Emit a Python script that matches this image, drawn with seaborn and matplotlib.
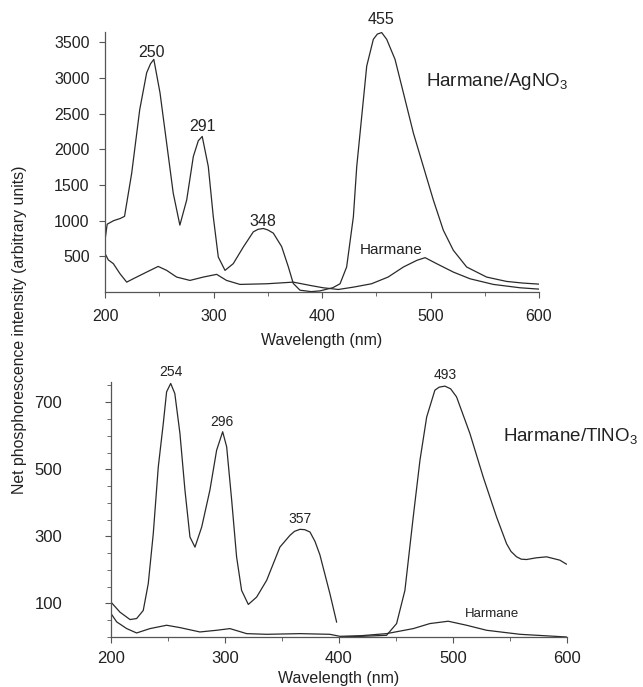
import matplotlib
matplotlib.use("Agg")
import matplotlib.pyplot as plt
import seaborn as sns
import pandas as pd
from matplotlib.ticker import MultipleLocator, FixedLocator

sns.set_theme(style="ticks")
plt.rcParams['font.family'] = ['Liberation Sans', 'DejaVu Sans']
plt.rcParams['mathtext.fontset'] = 'custom'
plt.rcParams['mathtext.rm'] = 'Liberation Sans'
plt.rcParams['mathtext.default'] = 'regular'

# ---- Top panel: Harmane/AgNO3 ----
ag_wl = [200, 202, 208, 214, 218, 224.6, 232, 238.4, 242, 245, 250.7, 256.8, 262.9, 269, 275.3,
         281.4, 286, 289.6, 295.2, 299.8, 304.4, 310.6, 318.2, 327.5, 336.7, 341, 345.9, 350,
         355.1, 362.8, 368.9, 373.5, 379.7, 390, 398, 410, 416.6, 422.7, 428.9, 432, 436.6,
         441.2, 447.3, 451, 455, 459.6, 467.3, 475, 484.2, 493.4, 502.6, 511.8, 521, 533.3,
         551.7, 570, 585, 600]
ag_int = [725, 950, 1000, 1030, 1060, 1665, 2556, 3073, 3200, 3260, 2791, 2087, 1383, 937, 1290,
          1899, 2120, 2180, 1758, 1054, 490, 303, 397, 631, 843, 878, 890, 870,
          825, 636, 355, 120, 25, 5, 15, 60, 115, 350, 1054, 1758, 2462,
          3166, 3542, 3615, 3636, 3542, 3260, 2791, 2228, 1758, 1289, 866, 585, 350,
          209, 148, 125, 110]

h1_wl = [200, 203, 207.7, 213.8, 220, 226, 238.4, 249, 256.8, 266, 278.3, 290.6, 302.9, 312,
         324.4, 349, 373.5, 389, 401, 415, 429, 445.6, 460.9, 475, 487.5, 495, 505.6, 521,
         536.4, 557.9, 582.5, 600]
h1_int = [540, 450, 397, 256, 138, 185, 279, 358, 303, 209, 162, 209, 247, 162,
          106, 115, 138, 92, 59, 35, 68, 115, 209, 350, 444, 481, 397, 279,
          185, 106, 59, 40]

# ---- Bottom panel: Harmane/TlNO3 (two scan segments) ----
tl_wl_a = [200, 207.9, 216.7, 222.5, 228.3, 232.7, 237.1, 241.5, 245.9, 248.8, 252.4, 256,
           260.5, 264.9, 269.3, 273.7, 279.6, 286.8, 292.7, 298, 301.5, 305.9, 310.2, 314.6,
           320.5, 327.8, 336.6, 348.2, 357, 361, 365.8, 370, 374.6, 379, 383.3, 392.1, 398]
tl_int_a = [104, 74, 52, 55, 79, 159, 308, 507, 637, 731, 756, 726,
            607, 438, 298, 268, 328, 438, 557, 612, 567, 408, 239, 139,
            97, 119, 169, 268, 303, 315, 321, 320, 313, 285, 245, 129, 44]
tl_wl_b = [400.9, 420, 441.8, 450.6, 457.9, 465.2, 471.1, 477, 484.2, 488, 493, 498, 503.2,
           514.9, 526.6, 538.3, 547.1, 551, 555.9, 560, 564.7, 573, 582.2, 593.9, 599.7]
tl_int_b = [0, 2, 5, 40, 139, 358, 527, 656, 736, 745, 748, 740, 716,
            607, 477, 358, 278, 255, 239, 232, 231, 236, 239, 229, 217]

h2_wl = [200, 205, 213.8, 222.5, 234.2, 248.8, 260.5, 278, 292.7, 304.4, 319, 336.6, 365.8,
         392, 400.9, 420, 441.8, 465.2, 479.8, 495.9, 512, 529.6, 558.8, 599.7]
h2_int = [70, 45, 25, 12, 25, 35, 28, 15, 20, 25, 10, 8, 10,
          8, 2, 4, 10, 25, 40, 47, 35, 20, 8, 0]

line_col = "#2a2a2a"
fig = plt.figure(figsize=(6.43, 6.87), dpi=100)
ax1 = fig.add_axes([0.1633, 0.575, 0.675, 0.378])
ax2 = fig.add_axes([0.1726, 0.0728, 0.709, 0.371])

def draw(ax, wl, inten):
    df = pd.DataFrame({"wl": wl, "I": inten})
    sns.lineplot(data=df, x="wl", y="I", ax=ax, color=line_col, lw=0.9,
                 estimator=None, sort=False)

draw(ax1, ag_wl, ag_int)
draw(ax1, h1_wl, h1_int)
draw(ax2, tl_wl_a, tl_int_a)
draw(ax2, tl_wl_b, tl_int_b)
draw(ax2, h2_wl, h2_int)

tc = "#222222"
for ax in (ax1, ax2):
    sns.despine(ax=ax)
    ax.set_xlim(200, 600)
    ax.xaxis.set_major_locator(MultipleLocator(100))
    ax.xaxis.set_minor_locator(MultipleLocator(50))
    ax.tick_params(axis='both', which='major', length=4, width=0.8, color="#555555",
                   labelsize=11.5, labelcolor=tc, direction='out')
    ax.tick_params(axis='both', which='minor', length=3, width=0.6, color="#555555",
                   direction='out')
    for s in ("left", "bottom"):
        ax.spines[s].set_color("#555555")
        ax.spines[s].set_linewidth(0.9)
    ax.set_xlabel("Wavelength (nm)", fontsize=11.5, color=tc)
    ax.set_ylabel("")

ax1.set_ylim(0, 3640)
ax1.yaxis.set_major_locator(FixedLocator([500, 1000, 1500, 2000, 2500, 3000, 3500]))
ax1.tick_params(axis='x', which='major', pad=8)
ax1.tick_params(axis='y', which='major', pad=7)
ax1.xaxis.set_label_coords(0.5, -0.158)

ax2.set_ylim(0, 760)
ax2.yaxis.set_major_locator(FixedLocator([100, 300, 500, 700]))
ax2.yaxis.set_minor_locator(MultipleLocator(50))
ax2.tick_params(axis='x', which='major', pad=6, labelsize=12)
ax2.tick_params(axis='y', which='major', pad=31, labelsize=12)
ax2.xaxis.set_label_coords(0.5, -0.133)

# top annotations
ax1.text(243.3, 3359, "250", ha='center', va='center', fontsize=11.5, color=tc)
ax1.text(290.3, 2317, "291", ha='center', va='center', fontsize=11.5, color=tc)
ax1.text(345.6, 993, "348", ha='center', va='center', fontsize=11.5, color=tc)
ax1.text(454.4, 3824, "455", ha='center', va='center', fontsize=11.5, color=tc, clip_on=False)
ax1.text(495.9, 2950, "Harmane/AgNO$_3$", ha='left', va='center', fontsize=13.5, color=tc)
ax1.text(435, 584, "Harmane", ha='left', va='center', fontsize=11, color=tc)
# bottom annotations
ax2.text(252.6, 790, "254", ha='center', va='center', fontsize=10, color=tc, clip_on=False)
ax2.text(297.4, 641, "296", ha='center', va='center', fontsize=10, color=tc)
ax2.text(365.8, 351, "357", ha='center', va='center', fontsize=10, color=tc)
ax2.text(493, 781, "493", ha='center', va='center', fontsize=10, color=tc, clip_on=False)
ax2.text(543.9, 599, "Harmane/TlNO$_3$", ha='left', va='center', fontsize=13.5, color=tc,
         clip_on=False)
ax2.text(510.5, 70, "Harmane", ha='left', va='center', fontsize=9.5, color=tc)

fig.text(0.031, 0.52, "Net phosphorescence intensity (arbitrary units)", rotation=90,
         ha='center', va='center', fontsize=11.4, color=tc)

fig.savefig("out.png", dpi=100, facecolor="white")
